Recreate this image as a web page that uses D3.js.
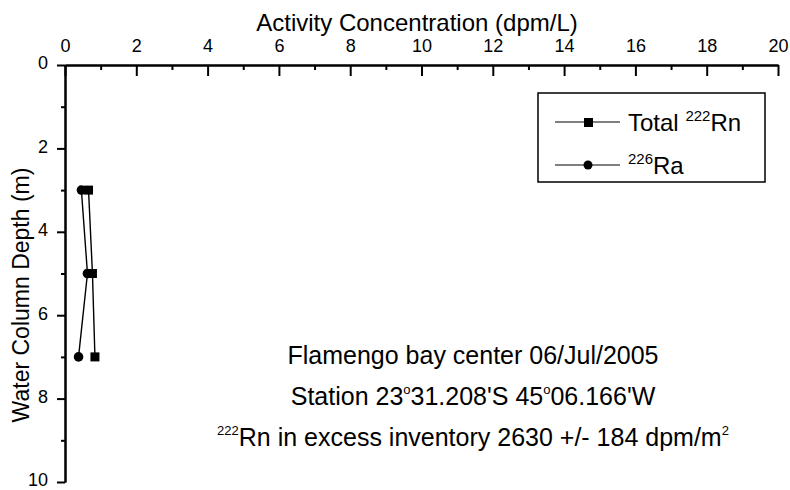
<!DOCTYPE html>
<html>
<head>
<meta charset="utf-8">
<script src="https://cdn.jsdelivr.net/npm/d3@7"></script>
<style>
  body { margin: 0; background: #fff; }
  svg { font-family: "Liberation Sans", Arial, sans-serif; }
</style>
</head>
<body>
<svg id="chart" width="790" height="490"></svg>
<script>
// depth (m) and activity concentration (dpm/L)
var depths = [3, 5, 7];
var rnTotal = [0.66, 0.77, 0.84];
var ra226 = [0.46, 0.63, 0.38];
var xMajor = [0, 2, 4, 6, 8, 10, 12, 14, 16, 18, 20];
var xMinor = [1, 3, 5, 7, 9, 11, 13, 15, 17, 19];
var yMajor = [0, 2, 4, 6, 8, 10];
var yMinor = [1, 3, 5, 7, 9];

var svg = d3.select('#chart');
var x = d3.scaleLinear().domain([0, 20]).range([65, 778]);
var y = d3.scaleLinear().domain([0, 10]).range([65, 482]);

function styleAxis(g) {
    g.select('.domain').attr('stroke', '#000').attr('stroke-width', 2);
    g.selectAll('.tick line').attr('stroke', '#000').attr('stroke-width', 2);
    g.selectAll('.tick text').attr('fill', '#000').attr('font-size', 18);
}

// top axis, ticks pointing into the plot
svg.append('g')
    .attr('transform', 'translate(0,' + y(0) + ')')
    .call(d3.axisTop(x).tickValues(xMinor).tickSizeInner(-5).tickSizeOuter(0).tickFormat(''))
    .call(styleAxis);
svg.append('g')
    .attr('transform', 'translate(0,' + y(0) + ')')
    .call(d3.axisTop(x).tickValues(xMajor).tickSizeInner(-11).tickSizeOuter(0).tickPadding(13))
    .call(styleAxis);

// left axis, ticks pointing out
svg.append('g')
    .attr('transform', 'translate(' + x(0) + ',0)')
    .call(d3.axisLeft(y).tickValues(yMinor).tickSizeInner(4).tickSizeOuter(0).tickFormat(''))
    .call(styleAxis);
svg.append('g')
    .attr('transform', 'translate(' + x(0) + ',0)')
    .call(d3.axisLeft(y).tickValues(yMajor).tickSizeInner(8).tickSizeOuter(0).tickPadding(9))
    .call(styleAxis)
    .selectAll('.tick text').attr('dy', '0.22em');

svg.append('text')
    .attr('x', 417).attr('y', 31)
    .attr('text-anchor', 'middle').attr('font-size', 24)
    .text('Activity Concentration (dpm/L)');

svg.append('text')
    .attr('transform', 'translate(29,295) rotate(-90)')
    .attr('text-anchor', 'middle').attr('font-size', 23)
    .text('Water Column Depth (m)');

// series
var line = d3.line()
    .x(function (d) { return x(d[0]); })
    .y(function (d) { return y(d[1]); });

var rnPts = depths.map(function (d, i) { return [rnTotal[i], d]; });
var raPts = depths.map(function (d, i) { return [ra226[i], d]; });

svg.append('path').datum(rnPts)
    .attr('fill', 'none').attr('stroke', '#000').attr('stroke-width', 1.4)
    .attr('d', line);
svg.append('path').datum(raPts)
    .attr('fill', 'none').attr('stroke', '#000').attr('stroke-width', 1.4)
    .attr('d', line);

svg.selectAll('.ra').data(raPts).enter().append('circle')
    .attr('cx', function (d) { return x(d[0]); })
    .attr('cy', function (d) { return y(d[1]); })
    .attr('r', 4.8).attr('fill', '#000');
svg.selectAll('.rn').data(rnPts).enter().append('rect')
    .attr('x', function (d) { return x(d[0]) - 4.5; })
    .attr('y', function (d) { return y(d[1]) - 4.5; })
    .attr('width', 9).attr('height', 9).attr('fill', '#000');

// legend
var lg = svg.append('g');
lg.append('rect')
    .attr('x', 538).attr('y', 93).attr('width', 227).attr('height', 89)
    .attr('fill', 'none').attr('stroke', '#000').attr('stroke-width', 1.5);

lg.append('line').attr('x1', 555).attr('x2', 620).attr('y1', 122).attr('y2', 122)
    .attr('stroke', '#000').attr('stroke-width', 1.2);
lg.append('rect').attr('x', 584).attr('y', 118).attr('width', 9).attr('height', 9).attr('fill', '#000');
var t1 = lg.append('text').attr('x', 628).attr('y', 131).attr('font-size', 24);
t1.append('tspan').text('Total ');
t1.append('tspan').attr('font-size', 15).attr('dy', -10).text('222');
t1.append('tspan').attr('dy', 10).text('Rn');

lg.append('line').attr('x1', 555).attr('x2', 620).attr('y1', 165).attr('y2', 165)
    .attr('stroke', '#000').attr('stroke-width', 1.2);
lg.append('circle').attr('cx', 588).attr('cy', 165).attr('r', 4.5).attr('fill', '#000');
var t2 = lg.append('text').attr('x', 628).attr('y', 174).attr('font-size', 24);
t2.append('tspan').attr('font-size', 15).attr('dy', -10).text('226');
t2.append('tspan').attr('dy', 10).text('Ra');

// annotation
var ann = svg.append('g').attr('font-size', 25).attr('text-anchor', 'middle');
ann.append('text').attr('x', 473).attr('y', 364).text('Flamengo bay center 06/Jul/2005');

var a2 = ann.append('text').attr('x', 473).attr('y', 405);
a2.append('tspan').text('Station 23');
a2.append('tspan').attr('font-size', 13).attr('dy', -11).text('o');
a2.append('tspan').attr('dy', 11).text("31.208'S 45");
a2.append('tspan').attr('font-size', 13).attr('dy', -11).text('o');
a2.append('tspan').attr('dy', 11).text("06.166'W");

var a3 = ann.append('text').attr('x', 473).attr('y', 446);
a3.append('tspan').attr('font-size', 13).attr('dy', -11).text('222');
a3.append('tspan').attr('dy', 11).text('Rn in excess inventory 2630 +/- 184 dpm/m');
a3.append('tspan').attr('font-size', 13).attr('dy', -11).text('2');
</script>
</body>
</html>
